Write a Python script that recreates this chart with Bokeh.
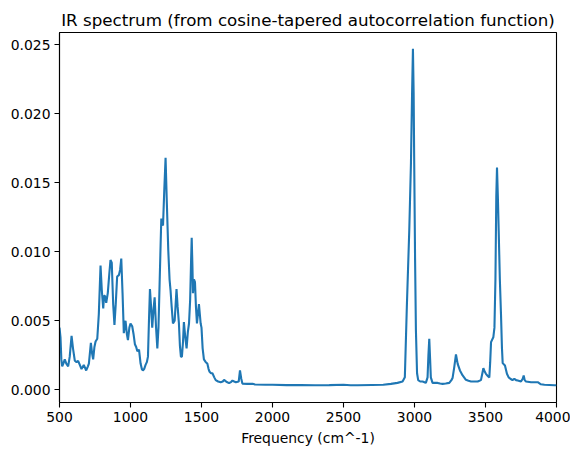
from bokeh.plotting import figure
from bokeh.embed import file_html
from bokeh.resources import INLINE
from bokeh.models import Range1d, PrintfTickFormatter, FixedTicker

freq = [
    500, 507, 513, 519, 527, 537, 548, 561, 572, 585, 595, 608, 620, 631, 643, 655, 671, 688, 700, 707,
    721, 730, 737, 746, 754, 766, 777, 789, 798, 808, 814, 820, 829, 840, 850, 859, 868, 878, 887, 896,
    906, 918, 927, 935, 944, 953, 965, 975, 982, 992, 1000, 1012, 1022, 1031, 1040, 1048, 1060, 1071, 1080, 1087,
    1096, 1106, 1115, 1123, 1130, 1137, 1145, 1153, 1162, 1170, 1180, 1189, 1197, 1205, 1212, 1217, 1223, 1229, 1238, 1247,
    1256, 1266, 1275, 1282, 1290, 1299, 1311, 1318, 1324, 1332, 1341, 1348, 1355, 1362, 1370, 1376, 1384, 1395, 1404, 1412,
    1420, 1427, 1431, 1436, 1440, 1447, 1454, 1461, 1468, 1475, 1482, 1488, 1494, 1500, 1508, 1517, 1530, 1541, 1550, 1557,
    1567, 1577, 1590, 1600, 1617, 1635, 1650, 1659, 1675, 1694, 1710, 1718, 1730, 1742, 1762, 1771, 1780, 1788, 1823, 1860,
    1877, 1950, 2000, 2100, 2200, 2300, 2400, 2500, 2550, 2600, 2700, 2780, 2834, 2880, 2916, 2932, 2946, 2963, 2975, 2983,
    2989, 2994, 2998, 3004, 3010, 3018, 3026, 3040, 3057, 3070, 3080, 3092, 3098, 3104, 3110, 3115, 3127, 3145, 3163, 3180,
    3198, 3220, 3245, 3260, 3268, 3280, 3292, 3304, 3320, 3339, 3362, 3380, 3398, 3420, 3445, 3468, 3478, 3485, 3495, 3503,
    3515, 3527, 3533, 3539, 3555, 3563, 3570, 3576, 3581, 3587, 3593, 3601, 3609, 3616, 3621, 3637, 3651, 3663, 3675, 3690,
    3703, 3715, 3727, 3750, 3762, 3769, 3776, 3785, 3821, 3868, 3890, 3915, 3985, 4000,
]

intensity = [
    0.0045, 0.0038, 0.0022, 0.0017, 0.0019, 0.0022, 0.0019, 0.0017, 0.0024, 0.0039, 0.0030, 0.0021, 0.0020, 0.0021, 0.0018, 0.0015, 0.0018, 0.0014, 0.0017, 0.0019,
    0.0034, 0.0026, 0.0022, 0.0031, 0.0035, 0.0037, 0.0055, 0.0090, 0.0072, 0.0059, 0.0068, 0.0068, 0.0063, 0.0070, 0.0083, 0.0094, 0.0092, 0.0062, 0.0047, 0.0062,
    0.0082, 0.0083, 0.0087, 0.0095, 0.0070, 0.0041, 0.0050, 0.0040, 0.0036, 0.0045, 0.0048, 0.0046, 0.0040, 0.0033, 0.0031, 0.0028, 0.0029, 0.0019, 0.0015, 0.0014,
    0.0015, 0.0018, 0.0020, 0.0024, 0.0050, 0.0073, 0.0060, 0.0045, 0.0058, 0.0067, 0.0045, 0.0030, 0.0045, 0.0077, 0.0105, 0.0124, 0.0120, 0.0119, 0.0145, 0.0168,
    0.0135, 0.0101, 0.0080, 0.0072, 0.0060, 0.0048, 0.0050, 0.0062, 0.0073, 0.0060, 0.0048, 0.0032, 0.0024, 0.0024, 0.0035, 0.0049, 0.0040, 0.0030, 0.0042, 0.0048,
    0.0065, 0.0095, 0.0110, 0.0090, 0.0070, 0.0080, 0.0078, 0.0060, 0.0048, 0.0055, 0.0062, 0.0055, 0.0048, 0.0045, 0.0030, 0.0022, 0.0020, 0.0019, 0.0015, 0.0013,
    0.0012, 0.0012, 0.0009, 0.0007, 0.0006, 0.00055, 0.0006, 0.00072, 0.00058, 0.00048, 0.00058, 0.00067, 0.0006, 0.00055, 0.0006, 0.0014, 0.0008, 0.00045, 0.00043, 0.00043,
    0.00038, 0.00037, 0.00036, 0.00034, 0.00034, 0.00033, 0.00034, 0.00036, 0.00033, 0.00033, 0.00035, 0.00036, 0.00043, 0.0005, 0.0006, 0.0009, 0.0060, 0.0115, 0.0164, 0.0215,
    0.0247, 0.0215, 0.0164, 0.0095, 0.0043, 0.0012, 0.0007, 0.0006, 0.0006, 0.00055, 0.0005, 0.0009, 0.0025, 0.0037, 0.0022, 0.0009, 0.0005, 0.0005, 0.0005, 0.00045,
    0.00043, 0.00045, 0.0005, 0.0007, 0.00085, 0.00164, 0.00256, 0.00188, 0.0014, 0.00104, 0.00072, 0.00065, 0.0006, 0.0006, 0.0006, 0.0007, 0.0012, 0.00157, 0.0013, 0.00116,
    0.0010, 0.0009, 0.0020, 0.00345, 0.0038, 0.0045, 0.0080, 0.0140, 0.0161, 0.0140, 0.0115, 0.0080, 0.0055, 0.0030, 0.00193, 0.00176, 0.00116, 0.0009, 0.0008, 0.0007,
    0.0008, 0.0007, 0.00067, 0.0006, 0.0008, 0.00104, 0.0007, 0.0006, 0.00055, 0.00055, 0.0004, 0.00036, 0.00033, 0.00033,
]

x_ticks = [500, 1000, 1500, 2000, 2500, 3000, 3500, 4000]
y_ticks = [0.000, 0.005, 0.010, 0.015, 0.020, 0.025]

title_text = "IR spectrum (from cosine-tapered autocorrelation function)"
x_label = "Frequency (cm^-1)"

FONT = "DejaVu Sans"

p = figure(
    width=570, height=450,
    output_backend="svg", toolbar_location=None,
    x_range=Range1d(500, 4000), y_range=Range1d(-0.00092, 0.02587),
    min_border_left=59, min_border_right=14, min_border_top=32, min_border_bottom=48,
    title=title_text,
)

p.line(freq, intensity, line_color="#1f77b4", line_width=2.1)

p.title.align = "center"
p.title.text_font = FONT
p.title.text_font_size = "16.7px"
p.title.text_font_style = "normal"
p.title.text_color = "black"
p.title.standoff = 6
p.title.offset = 0

p.xgrid.visible = False
p.ygrid.visible = False
p.outline_line_color = "black"
p.outline_line_width = 1.1
p.outline_line_alpha = 1.0
p.background_fill_color = "white"
p.border_fill_color = "white"

for ax in (p.xaxis[0], p.yaxis[0]):
    ax.axis_line_color = "black"
    ax.axis_line_width = 1.1
    ax.major_tick_line_color = "black"
    ax.major_tick_line_width = 1.1
    ax.major_tick_in = 0
    ax.major_tick_out = 5
    ax.minor_tick_line_color = None
    ax.major_label_text_font = FONT
    ax.major_label_text_font_size = "13.9px"
    ax.major_label_text_color = "black"
    ax.major_label_standoff = 4

p.xaxis[0].ticker = FixedTicker(ticks=x_ticks)
p.yaxis[0].ticker = FixedTicker(ticks=y_ticks)
p.yaxis[0].formatter = PrintfTickFormatter(format="%.3f")
p.xaxis[0].axis_label = x_label
p.xaxis[0].axis_label_text_font = FONT
p.xaxis[0].axis_label_text_font_size = "13.9px"
p.xaxis[0].axis_label_text_font_style = "normal"
p.xaxis[0].axis_label_text_color = "black"
p.xaxis[0].axis_label_standoff = 5

open("out.html", "w").write(file_html(p, INLINE))
